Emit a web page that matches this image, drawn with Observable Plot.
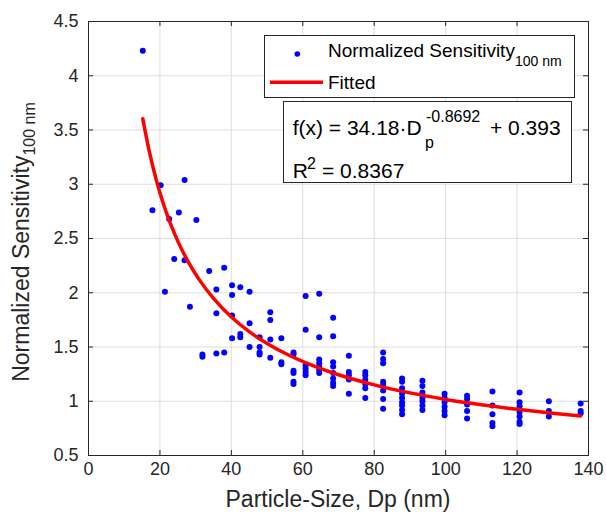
<!DOCTYPE html>
<html><head><meta charset="utf-8">
<script src="https://cdn.jsdelivr.net/npm/d3@7"></script>
<script src="https://cdn.jsdelivr.net/npm/@observablehq/plot@0.6"></script>
<style>body{margin:0;background:#fff} svg{display:block}</style>
</head><body><div id="chart"></div>
<script>
const xTicks = [0, 20, 40, 60, 80, 100, 120, 140];
const yTicks = [0.5, 1, 1.5, 2, 2.5, 3, 3.5, 4, 4.5];

// particle-size bins (nm) and the normalized sensitivities measured at each bin
const binDp = [15.2, 17.9, 20.2, 21.4, 22.6, 24.0, 25.3, 26.9, 28.4, 30.2, 31.9, 33.8, 35.8, 38.0, 40.2, 42.5, 45.1, 47.9, 50.9, 54.0, 57.4, 60.8, 64.6, 68.5, 72.9, 77.5, 82.5, 87.8, 93.5, 99.7, 106.0, 113.1, 120.7, 128.9, 137.8];
const binSens = [
  [4.23],
  [2.76],
  [2.99],
  [2.01],
  [2.68],
  [2.31],
  [2.74],
  [3.04, 2.30],
  [1.87],
  [2.67],
  [1.43, 1.41],
  [2.20],
  [2.03, 1.81, 1.44],
  [2.23, 1.45],
  [2.07, 1.98, 1.79, 1.58],
  [2.05, 1.62, 1.59],
  [2.01, 1.72, 1.50],
  [1.59, 1.50, 1.45, 1.43],
  [1.82, 1.75, 1.57, 1.40],
  [1.58, 1.36, 1.34],
  [1.45, 1.43, 1.28, 1.26, 1.18, 1.16],
  [1.97, 1.66, 1.33, 1.30, 1.27, 1.24],
  [1.99, 1.59, 1.385, 1.35, 1.32, 1.29, 1.26],
  [1.77, 1.60, 1.36, 1.32, 1.26, 1.21, 1.17, 1.14],
  [1.42, 1.27, 1.24, 1.20, 1.07],
  [1.27, 1.24, 1.20, 1.16, 1.12, 1.03],
  [1.45, 1.39, 1.35, 1.18, 1.15, 1.10, 1.02, 0.93],
  [1.21, 1.18, 1.12, 1.07, 1.03, 0.99, 0.96, 0.92, 0.88],
  [1.19, 1.14, 1.08, 1.03, 1.00, 0.96, 0.92],
  [1.07, 1.03, 0.99, 0.95, 0.91, 0.87],
  [1.05, 1.02, 0.97, 0.91, 0.84],
  [1.09, 0.96, 0.88, 0.80, 0.77],
  [1.08, 0.99, 0.955, 0.90, 0.86, 0.81, 0.79],
  [1.00, 0.91, 0.86],
  [0.98, 0.91, 0.89]
];

// fitted curve
const fitDp = [15.2, 17, 19, 21, 23, 25, 28, 31, 35, 40, 45, 50, 56, 63, 70, 80, 90, 100, 110, 120, 130, 137.8];
const fitSens = [3.603, 3.305, 3.037, 2.816, 2.632, 2.476, 2.280, 2.121, 1.948, 1.777, 1.642, 1.533, 1.426, 1.326, 1.244, 1.151, 1.077, 1.017, 0.968, 0.926, 0.890, 0.865];

const points = binDp.flatMap((d, i) => binSens[i].map(v => ({dp: d, s: v})));
const fit = fitDp.map((d, i) => ({dp: d, s: fitSens[i]}));

const W = 606, H = 517, mL = 88, mR = 18, mT = 21, mB = 62;
const innerW = W - mL - mR, innerH = H - mT - mB;
const ink = "#262626";
const font = "'Liberation Sans', Arial, Helvetica, sans-serif";

const chart = Plot.plot({
  width: W, height: H,
  marginLeft: mL, marginRight: mR, marginTop: mT, marginBottom: mB,
  style: {fontFamily: font, background: "#fff", color: ink, overflow: "visible"},
  x: {domain: [0, 140]},
  y: {domain: [0.5, 4.5]},
  marks: [
    Plot.gridX(xTicks, {stroke: "#dedede", strokeOpacity: 1}),
    Plot.gridY(yTicks, {stroke: "#dedede", strokeOpacity: 1}),
    Plot.axisX(xTicks, {tickSize: 0, tickPadding: 7, fontSize: 18, label: null, tickFormat: d => String(d)}),
    Plot.axisY(yTicks, {tickSize: 0, tickPadding: 10, fontSize: 18, label: null, tickFormat: d => String(d)}),
    Plot.tickX(xTicks, {x: d => d, insetTop: innerH - 5, stroke: ink}),
    Plot.tickX(xTicks, {x: d => d, insetBottom: innerH - 5, stroke: ink}),
    Plot.tickY(yTicks, {y: d => d, insetRight: innerW - 5, stroke: ink}),
    Plot.tickY(yTicks, {y: d => d, insetLeft: innerW - 5, stroke: ink}),
    Plot.frame({stroke: ink}),
    Plot.dot(points, {x: "dp", y: "s", r: 3, fill: "#0000ff", stroke: "none"}),
    Plot.line(fit, {x: "dp", y: "s", stroke: "#ff0000", strokeWidth: 3.5, curve: "monotone-x"})
  ]
});
document.getElementById("chart").appendChild(chart);

const svg = d3.select(chart);
svg.style("font-family", font);

// axis labels
svg.append("text").attr("x", mL + innerW / 2).attr("y", 507).attr("text-anchor", "middle")
  .attr("font-size", 23).attr("fill", ink).text("Particle-Size, Dp (nm)");
const yl = svg.append("text").attr("transform", `translate(29,${mT + innerH / 2 + 4}) rotate(-90)`)
  .attr("text-anchor", "middle").attr("font-size", 23).attr("fill", ink);
yl.append("tspan").text("Normalized Sensitivity");
yl.append("tspan").attr("font-size", 16).attr("dy", 6).text("100 nm");

// legend
const lg = svg.append("g").attr("text-anchor", "start");
lg.append("rect").attr("x", 264.5).attr("y", 35.5).attr("width", 310).attr("height", 62)
  .attr("fill", "#fff").attr("stroke", ink);
lg.append("circle").attr("cx", 297.3).attr("cy", 54).attr("r", 2.8).attr("fill", "#0000ff");
const lt = lg.append("text").attr("x", 328).attr("y", 57.3).attr("font-size", 19).attr("fill", "#000");
lt.append("tspan").text("Normalized Sensitivity");
lt.append("tspan").attr("font-size", 14).attr("dy", 8.4).text("100 nm");
lg.append("line").attr("x1", 270).attr("x2", 323).attr("y1", 82.3).attr("y2", 82.3)
  .attr("stroke", "#ff0000").attr("stroke-width", 3.5);
lg.append("text").attr("x", 328).attr("y", 89).attr("font-size", 19).attr("fill", "#000").text("Fitted");

// fit annotation
const an = svg.append("g").attr("fill", "#000").attr("text-anchor", "start");
an.append("rect").attr("x", 283.5).attr("y", 101.5).attr("width", 288).attr("height", 81)
  .attr("fill", "#fff").attr("stroke", ink);
an.append("text").attr("x", 292.7).attr("y", 135).attr("font-size", 21).text("f(x) = 34.18\u00b7D");
an.append("text").attr("x", 426).attr("y", 121.7).attr("font-size", 16).text("-0.8692");
an.append("text").attr("x", 425).attr("y", 148).attr("font-size", 16).text("p");
an.append("text").attr("x", 490).attr("y", 135).attr("font-size", 21).text("+ 0.393");
an.append("text").attr("x", 292.7).attr("y", 178.3).attr("font-size", 21).text("R");
an.append("text").attr("x", 307).attr("y", 169).attr("font-size", 16).text("2");
an.append("text").attr("x", 322).attr("y", 178.3).attr("font-size", 21).text("= 0.8367");
</script>
</body></html>
